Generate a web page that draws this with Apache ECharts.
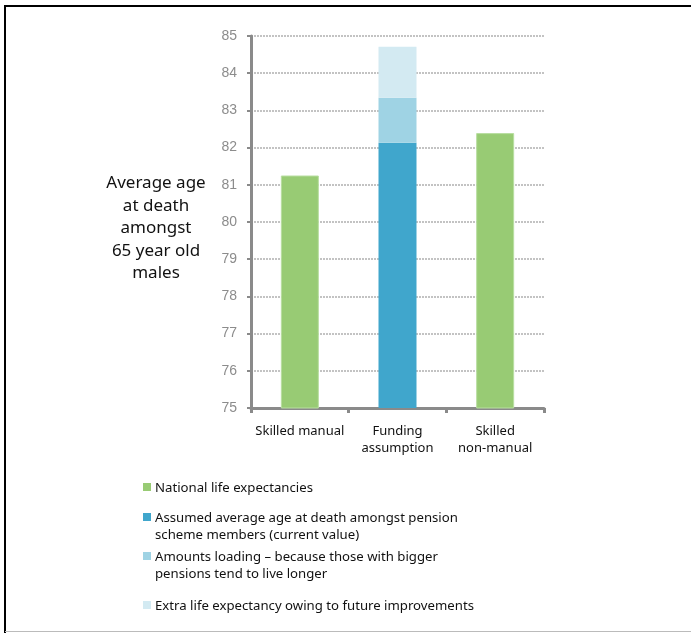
<!DOCTYPE html>
<html>
<head>
<meta charset="utf-8">
<script src="https://cdn.jsdelivr.net/npm/echarts@6/dist/echarts.min.js"></script>
<style>
html,body{margin:0;padding:0;background:#fff;}
#chart{width:691px;height:633px;}
</style>
</head>
<body>
<div id="chart"></div>
<script>
const categories = ['Skilled manual', 'Funding assumption', 'Skilled non-manual'];
const categoryLabels = ['Skilled manual', 'Funding\nassumption', 'Skilled\nnon-manual'];
const seriesNames = [
  'National life expectancies',
  'Assumed average age at death amongst pension\nscheme members (current value)',
  'Amounts loading \u2013 because those with bigger\npensions tend to live longer',
  'Extra life expectancy owing to future improvements'
];
const nationalLife = [81.25, null, 82.39];
const assumedAge = [null, 82.13, null];
const amountsLoading = [null, 1.21, null];
const extraImprovements = [null, 1.37, null];
const yTicks = [75, 76, 77, 78, 79, 80, 81, 82, 83, 84, 85];
const yTitle = 'Average age\nat death\namongst\n65 year old\nmales';

const colors = ['#98cb74', '#40a6cc', '#9fd3e4', '#d3eaf2'];
const seriesData = [nationalLife, assumedAge, amountsLoading, extraImprovements];

const chart = echarts.init(document.getElementById('chart'), null, {renderer: 'canvas'});
const font = 'Noto Sans';

// legend drawn as graphic items (first-line aligned swatches)
const legendFirstLineY = [486, 516, 555, 604];
const legendGraphics = [];
seriesNames.forEach((n, i) => {
  const y = legendFirstLineY[i];
  legendGraphics.push({type: 'rect', shape: {x: 143, y: y - 3, width: 8, height: 8}, style: {fill: colors[i]}});
  legendGraphics.push({type: 'text', x: 155, y: y - 7, style: {
    text: n, fontFamily: font, fontSize: 13.2, lineHeight: 17.5, fill: '#111',
    align: 'left', verticalAlign: 'top'
  }});
});

chart.setOption({
  animation: false,
  backgroundColor: '#fff',
  color: colors,
  grid: {left: 251, right: 147, top: 36, bottom: 225, containLabel: false},
  xAxis: {
    type: 'category',
    data: categories,
    axisLine: {lineStyle: {color: '#8a8a8a', width: 3}},
    axisTick: {show: true, length: 5, lineStyle: {color: '#8a8a8a', width: 3}},
    axisLabel: {
      margin: 15, color: '#111', fontFamily: font, fontSize: 13, lineHeight: 17,
      interval: 0,
      formatter: (v, i) => categoryLabels[i]
    }
  },
  yAxis: {
    type: 'value',
    min: yTicks[0],
    max: yTicks[yTicks.length - 1],
    interval: 1,
    axisLine: {show: true, lineStyle: {color: '#8a8a8a', width: 3}},
    axisTick: {show: true, length: 4, lineStyle: {color: '#8a8a8a', width: 2}},
    axisLabel: {margin: 14, color: '#8c8c8c', fontFamily: 'Liberation Sans', fontSize: 14},
    splitLine: {show: true, lineStyle: {color: '#b0b0b0', width: 1.5, type: [2, 1]}}
  },
  series: seriesData.map((d, i) => ({
    name: seriesNames[i],
    type: 'bar',
    stack: 'total',
    data: d,
    barWidth: 38,
    itemStyle: i === 0 ? {color: colors[i], borderColor: '#b8dea0', borderWidth: 1} : {color: colors[i]}
  })),
  graphic: [
    {type: 'text', x: 156, y: 172, style: {
      text: yTitle, fontFamily: font, fontSize: 17, lineHeight: 22.5,
      fill: '#111', align: 'center', verticalAlign: 'top'
    }},
    ...legendGraphics,
    {type: 'line', shape: {x1: 4, y1: 6, x2: 691, y2: 6}, style: {stroke: '#000', lineWidth: 2}},
    {type: 'line', shape: {x1: 5, y1: 5, x2: 5, y2: 633}, style: {stroke: '#000', lineWidth: 2}},
    {type: 'line', shape: {x1: 5, y1: 631.5, x2: 691, y2: 631.5}, style: {stroke: '#bbb', lineWidth: 1}}
  ]
});
</script>
</body>
</html>
